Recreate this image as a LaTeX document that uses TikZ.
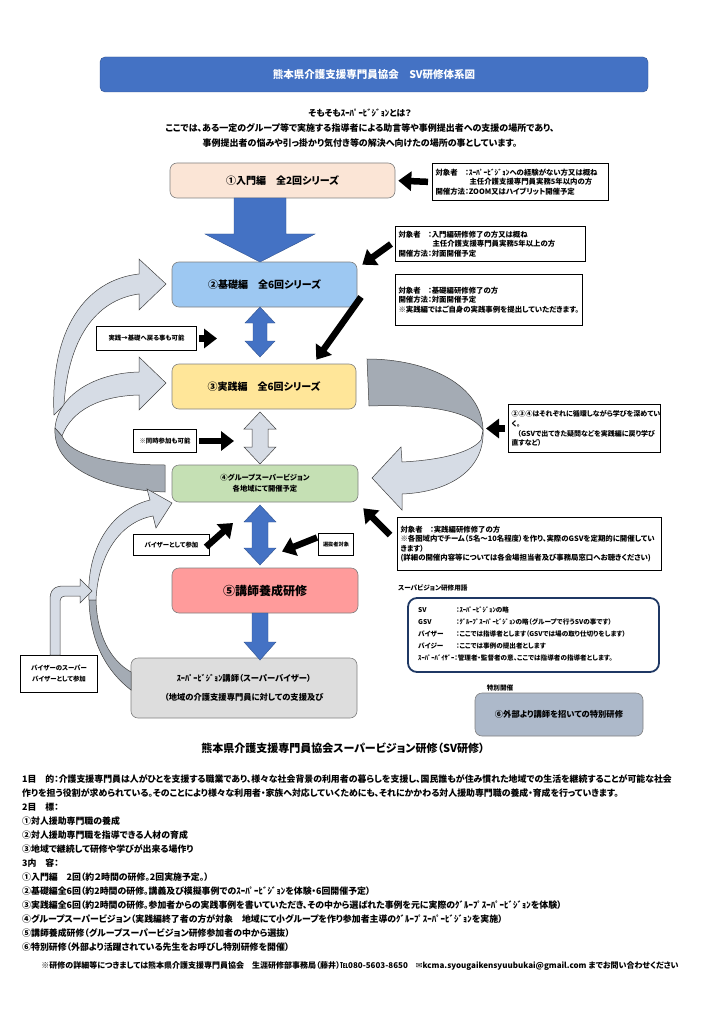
\documentclass[tikz,border=0pt]{standalone}
\usepackage{fontspec}
\setmainfont{Noto Sans CJK JP}[RawFeature=+palt]
\newfontfamily\symfont{DejaVu Sans}
\usetikzlibrary{arrows.meta,calc}

\definecolor{titleblue}{HTML}{4472C4}
\definecolor{titleedge}{HTML}{2F528F}
\definecolor{introfill}{HTML}{FBE5D6}
\definecolor{basicfill}{HTML}{9DC8F2}
\definecolor{practfill}{HTML}{FFE699}
\definecolor{groupfill}{HTML}{C5E0B4}
\definecolor{teachfill}{HTML}{FF9B9B}
\definecolor{lecturfill}{HTML}{DDDDDD}
\definecolor{specialfill}{HTML}{ADB9CA}
\definecolor{bandlightfill}{HTML}{D6DCE5}
\definecolor{banddarkfill}{HTML}{A4ABB4}
\definecolor{termedge}{HTML}{1F3864}

\tikzset{
  stepbox/.style={draw=black!50, line width=0.6pt, rounded corners=7pt, inner sep=0pt,
    align=center, font=\bfseries\fontsize{10}{12}\selectfont},
  infobox/.style={draw, line width=1pt, anchor=north west, align=left, inner sep=3pt,
    font=\bfseries\fontsize{7.4}{9.6}\selectfont},
  tagbox/.style={draw, line width=1pt, anchor=north west, align=center, inner sep=0pt,
    font=\bfseries\fontsize{6.4}{7.5}\selectfont},
  termtext/.style={anchor=west, inner sep=0pt, font=\bfseries\fontsize{6.6}{7}\selectfont},
  blackarrow/.style={line width=6.5pt, -{Triangle[length=13pt,width=19pt]}},
  bluearrow/.style={fill=titleblue, draw=titleedge, line width=0.4pt},
  bandlight/.style={fill=bandlightfill, draw=black!75, line width=0.5pt},
  banddark/.style={fill=banddarkfill, draw=black!75, line width=0.5pt},
  pics/varrow/.style args={#1/#2/#3/#4}{code={
    \path[pic actions] (-#2,0) -- (-#2,#1-#4) -- (-#3,#1-#4) -- (0,#1)
      -- (#3,#1-#4) -- (#2,#1-#4) -- (#2,0) -- cycle;}},
  pics/vdarrow/.style args={#1/#2/#3/#4}{code={
    \path[pic actions] (0,0) -- (#3,#4) -- (#2,#4) -- (#2,#1-#4) -- (#3,#1-#4) -- (0,#1)
      -- (-#3,#1-#4) -- (-#2,#1-#4) -- (-#2,#4) -- (-#3,#4) -- cycle;}}
}

\begin{document}
\begin{tikzpicture}[x=1pt,y=-1pt]
\useasboundingbox (0,0) rectangle (724,1024);

% header
\node (title) [draw=titleedge, fill=titleblue, rounded corners=5pt, minimum width=548,
    minimum height=35, text=white, font=\bfseries\fontsize{10.5}{12}\selectfont]
    at (374,74.5) {熊本県介護支援専門員協会　SV研修体系図};
\node (whatsv) [font=\bfseries\fontsize{8.8}{10}\selectfont] at (360,113)
    {そもそもｽｰﾊﾟｰﾋﾞｼﾞｮﾝとは？};
\node (whatsvtext) [align=center, font=\bfseries\fontsize{9}{15}\selectfont] at (360,135.5)
    {ここでは、ある一定のグループ等で実施する指導者による助言等や事例提出者への支援の場所であり、\\
     事例提出者の悩みや引っ掛かり気付き等の解決へ向けたの場所の事としています。};

% steps
\node (intro) [stepbox, fill=introfill, minimum width=225, minimum height=35]
    at (282.5,180.5) {①入門編　全2回シリーズ};
\node (basic) [stepbox, fill=basicfill, minimum width=185, minimum height=45]
    at (264.5,284.5) {②基礎編　全6回シリーズ};
\node (pract) [stepbox, fill=practfill, minimum width=184, minimum height=45]
    at (264,386.5) {③実践編　全6回シリーズ};
\node (group) [stepbox, fill=groupfill, minimum width=186, minimum height=37,
    font=\bfseries\fontsize{7.3}{11}\selectfont]
    at (265,483.5) {④グループスーパービジョン\\各地域にて開催予定};
\node (teach) [stepbox, fill=teachfill, minimum width=186, minimum height=45,
    font=\bfseries\fontsize{12}{14}\selectfont]
    at (265,590.5) {⑤講師養成研修};
\node (lecturer) [stepbox, fill=lecturfill, minimum width=226, minimum height=60,
    font=\bfseries\fontsize{8.3}{19}\selectfont]
    at (244,688) {ｽｰﾊﾟｰﾋﾞｼﾞｮﾝ講師（スーパーバイザー）\\（地域の介護支援専門員に対しての支援及び};
\node (special) [stepbox, fill=specialfill, minimum width=168, minimum height=43,
    font=\bfseries\fontsize{8.3}{10}\selectfont]
    at (559,714.5) {⑥外部より講師を招いての特別研修};

% notes
\node (intronote) [infobox, text width=170, minimum height=37] at (432,163)
    {対象者　：ｽｰﾊﾟｰﾋﾞｼﾞｮﾝへの経験がない方又は概ね\\
     \hspace*{34pt}主任介護支援専門員実務5年以内の方\\
     開催方法：ZOOM又はハイブリット開催予定};
\node (basicnote) [infobox, text width=184, minimum height=35] at (395,226)
    {対象者　：入門編研修修了の方又は概ね\\
     \hspace*{34pt}主任介護支援専門員実務5年以上の方\\
     開催方法：対面開催予定};
\node (practnote) [infobox, text width=181, minimum height=51] at (395,274)
    {対象者　：基礎編研修修了の方\\
     開催方法：対面開催予定\\
     ※実践編ではご自身の実践事例を提出していただきます。};
\node (cyclenote) [infobox, text width=146, minimum height=48,
    font=\bfseries\fontsize{7}{9.6}\selectfont] at (508,404)
    {②③④はそれぞれに循環しながら学びを深めてい\\
     く。\\
     \hspace*{6pt}（GSVで出てきた疑問などを実践編に戻り学び\\
     直すなど）};
\node (groupnote) [infobox, text width=258, minimum height=53] at (397,517)
    {対象者　：実践編研修修了の方\\
     ※各圏域内でチーム（5名～10名程度）を作り、実際のGSVを定期的に開催してい\\
     きます）\\
     (詳細の開催内容等については各会場担当者及び事務局窓口へお聴きください)};

% tags
\node (backtag) [tagbox, minimum width=100, minimum height=24] at (96,326) {実践→基礎へ戻る事も可能};
\node (sametag) [tagbox, minimum width=63, minimum height=23] at (133,429) {※同時参加も可能};
\node (visortag) [tagbox, minimum width=76, minimum height=21] at (133,534) {バイザーとして参加};
\node (selecttag) [tagbox, minimum width=35, minimum height=22,
    font=\bfseries\fontsize{5.2}{6}\selectfont] at (318,533) {選抜者対象};
\node (supertag) [tagbox, minimum width=77, minimum height=37,
    font=\bfseries\fontsize{6.4}{11}\selectfont] at (20,655) {バイザーのスーパー\\バイザーとして参加};

% terms
\node (termtitle) [termtext] at (398,588) {スーパビジョン研修用語};
\node (termbox) [draw=termedge, line width=1.8pt, rounded corners=9pt,
    minimum width=251, minimum height=74] at (533.5,635) {};
\node (sv) [termtext] at (418,610) {SV};
\node (svtext) [termtext] at (456,610) {：ｽｰﾊﾟｰﾋﾞｼﾞｮﾝの略};
\node (gsv) [termtext] at (418,622) {GSV};
\node (gsvtext) [termtext] at (456,622) {：ｸﾞﾙｰﾌﾟｽｰﾊﾟｰﾋﾞｼﾞｮﾝの略（グループで行うSVの事です）};
\node (visor) [termtext] at (418,634) {バイザー};
\node (visortext) [termtext] at (456,634) {：ここでは指導者とします（GSVでは場の取り仕切りをします）};
\node (visee) [termtext] at (418,646) {バイジー};
\node (viseetext) [termtext] at (456,646) {：ここでは事例の提出者とします};
\node (supervisor) [termtext] at (418,658) {ｽｰﾊﾟｰﾊﾞｲｻﾞｰ：管理者・監督者の意、ここでは指導者の指導者とします。};
\node (specialtitle) [font=\bfseries\fontsize{6.6}{7}\selectfont] at (500,688) {特別開催};

% blue arrows
\pic[bluearrow] at (260,198) {varrow=64/26/55/28};
\pic[bluearrow] at (260,307) {vdarrow=50/7/15/16};
\pic[bandlight] at (260,412) {vdarrow=52/8/16/17};
\pic[bluearrow] at (260,505) {vdarrow=60/8/16/17};
\pic[bluearrow] at (260,613) {varrow=47/8/16/18};

% black arrows
\draw[blackarrow, shorten <=4pt, shorten >=3pt] (intronote.west) -- (intro.east);
\draw[blackarrow] ($(basicnote.west)+(-4,0)$) -- ($(basic.north east)+(5,3)$);
\draw[blackarrow] ($(practnote.west)+(-34,-3)$) -- ($(pract.north east)+(-40,-4)$);
\draw[blackarrow, shorten <=2pt] (backtag.east) -- ($(backtag.east)+(20,0)$);
\draw[blackarrow, shorten <=2pt] (sametag.east) -- ($(sametag.east)+(37,0)$);
\draw[blackarrow, shorten <=3pt] (cyclenote.west) -- ($(cyclenote.west)+(-22,0)$);
\draw[blackarrow] ($(groupnote.west)+(-7,-9)$) -- ($(group.south east)+(5,6)$);
\draw[blackarrow] ($(visortag.east)+(-4,2)$) -- ($(visortag.east)+(23,-22)$);
\draw[blackarrow] ($(selecttag.west)+(-1,-7)$) -- ($(selecttag.west)+(-36,7)$);

% curved arrows right
\filldraw[banddark] (367,359) .. controls (428,359) and (482,385) .. (483,430)
    .. controls (470,410) and (425,404) .. (369,406) -- cycle;
\filldraw[bandlight] (483,430) .. controls (485,468) and (452,492) .. (402,494)
    -- (402,510) -- (372,478) -- (401,447) -- (402,462)
    .. controls (442,460) and (472,452) .. (481,440) -- cycle;

% curved arrows left
\filldraw[bandlight] (54,415) .. controls (50,330) and (85,280) .. (139,274)
    -- (139,259) -- (166,284) -- (139,310) -- (139,294)
    .. controls (95,300) and (68,340) .. (64,405) -- cycle;
\filldraw[bandlight] (55,428) .. controls (58,395) and (95,373) .. (139,372)
    -- (139,357) -- (166,383) -- (139,410) -- (139,395)
    .. controls (100,396) and (72,410) .. (62,436) -- cycle;
\filldraw[banddark] (55,428) .. controls (52,470) and (110,490) .. (165,492)
    -- (165,465) .. controls (110,465) and (70,455) .. (62,436) -- cycle;
\filldraw[bandlight] (89,600) .. controls (86,550) and (110,510) .. (150,500)
    -- (147,489) -- (172,503) -- (156,528) -- (153,516)
    .. controls (120,522) and (98,555) .. (96,600) -- cycle;
\filldraw[banddark] (89,600) .. controls (90,640) and (105,670) .. (131,690)
    -- (131,672) .. controls (110,660) and (97,635) .. (96,600) -- cycle;
\filldraw[bandlight] (50,655) -- (50,600) .. controls (50,590) and (54,586) .. (64,586)
    -- (80,586) -- (80,579) -- (92,591) -- (80,603) -- (80,596) -- (66,596)
    .. controls (62,596) and (60,598) .. (60,602) -- (60,655) -- cycle;

% outline text
\node (maintitle) [font=\bfseries\fontsize{11}{13}\selectfont] at (343,748)
    {熊本県介護支援専門員協会スーパービジョン研修（SV研修）};
\node (outline) [anchor=north west, align=left, inner sep=0pt,
    font=\bfseries\fontsize{8.9}{14}\selectfont] at (22,774)
    {1目　的：介護支援専門員は人がひとを支援する職業であり、様々な社会背景の利用者の暮らしを支援し、国民誰もが住み慣れた地域での生活を継続することが可能な社会\\
     作りを担う役割が求められている。そのことにより様々な利用者・家族へ対応していくためにも、それにかかわる対人援助専門職の養成・育成を行っていきます。\\
     2目　標：\\
     ①対人援助専門職の養成\\
     ②対人援助専門職を指導できる人材の育成\\
     ③地域で継続して研修や学びが出来る場作り\\
     3内　容：\\
     ①入門編　2回（約２時間の研修。2回実施予定。）\\
     ②基礎編全6回（約2時間の研修。講義及び模擬事例でのｽｰﾊﾟｰﾋﾞｼﾞｮﾝを体験・6回開催予定）\\
     ③実践編全6回（約2時間の研修。参加者からの実践事例を書いていただき、その中から選ばれた事例を元に実際のｸﾞﾙｰﾌﾟｽｰﾊﾟｰﾋﾞｼﾞｮﾝを体験）\\
     ④グループスーパービジョン（実践編終了者の方が対象　地域にて小グループを作り参加者主導のｸﾞﾙｰﾌﾟｽｰﾊﾟｰﾋﾞｼﾞｮﾝを実施）\\
     ⑤講師養成研修（グループスーパービジョン研修参加者の中から選抜）\\
     ⑥特別研修（外部より活躍されている先生をお呼びし特別研修を開催）};
\node (contact) [font=\bfseries\fontsize{8}{9}\selectfont] at (360,966)
    {※研修の詳細等につきましては熊本県介護支援専門員協会　生涯研修部事務局（藤井）℡080-5603-8650　{\symfont ✉}kcma.syougaikensyuubukai@gmail.com までお問い合わせください};

\end{tikzpicture}
\end{document}
